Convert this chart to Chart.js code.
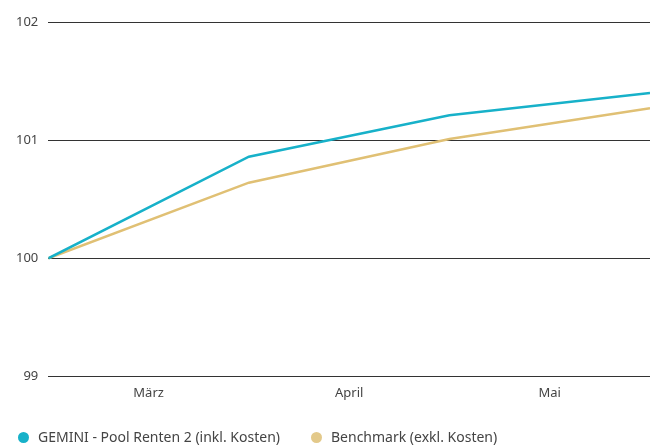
<!DOCTYPE html>
<html>
<head>
<meta charset="utf-8">
<script src="https://cdn.jsdelivr.net/npm/chart.js@4"></script>
<style>
  html, body { margin: 0; padding: 0; background: #fff; }
  #wrap { position: relative; width: 660px; height: 445px; }
  #legend {
    position: absolute; left: 18px; top: 428px;
    display: flex; align-items: center;
    font-family: 'Noto Sans', sans-serif; font-size: 14px; color: #444;
    line-height: 18px; white-space: nowrap;
  }
  #legend .item { display: flex; align-items: center; margin-right: 31px; }
  #legend .dot { width: 11px; height: 11px; border-radius: 50%; margin-right: 9px; }
</style>
</head>
<body>
<div id="wrap">
  <canvas id="lineChart"></canvas>
  <div id="legend"></div>
</div>
<script>
// data
const months = ['März', 'April', 'Mai'];
const fund = [100, 100.86, 101.21, 101.40];
const bench = [100, 100.64, 101.01, 101.27];
const yTicks = [99, 100, 101, 102];

const teal = '#17b1c9';
const gold = '#e0c074';

function toPoints(arr) {
  return arr.map(function (v, i) { return { x: i, y: v }; });
}

const config = {
  type: 'line',
  data: {
    datasets: [{
      label: 'GEMINI - Pool Renten 2 (inkl. Kosten)',
      data: toPoints(fund),
      borderColor: teal,
      backgroundColor: teal,
      borderWidth: 2.5,
      pointRadius: 0,
      tension: 0
    }, {
      label: 'Benchmark (exkl. Kosten)',
      data: toPoints(bench),
      borderColor: gold,
      backgroundColor: '#e3c98a',
      borderWidth: 2.5,
      pointRadius: 0,
      tension: 0
    }]
  },
  options: {
    responsive: true,
    maintainAspectRatio: false,
    animation: false,
    layout: { padding: { left: 6, right: 10, top: 22, bottom: 35 } },
    scales: {
      x: {
        type: 'linear',
        min: 0,
        max: fund.length - 1,
        border: { display: false },
        grid: { display: false, drawTicks: false },
        afterBuildTicks: function (scale) {
          scale.ticks = months.map(function (m, i) { return { value: i + 0.5 }; });
        },
        ticks: {
          padding: 9,
          color: '#444',
          font: { family: 'Noto Sans', size: 13 },
          callback: function (v) { return months[Math.floor(v)]; }
        }
      },
      y: {
        min: yTicks[0],
        max: yTicks[yTicks.length - 1],
        border: { display: false },
        grid: { color: '#333', lineWidth: 1, drawTicks: false },
        afterBuildTicks: function (scale) {
          scale.ticks = yTicks.map(function (v) { return { value: v }; });
        },
        ticks: {
          padding: 10,
          color: '#444',
          font: { family: 'Noto Sans', size: 13 }
        }
      }
    },
    plugins: {
      legend: { display: false },
      tooltip: { enabled: false }
    }
  }
};

const lineChart = new Chart(document.getElementById('lineChart'), config);

// html legend
const legendEl = document.getElementById('legend');
lineChart.data.datasets.forEach(function (ds) {
  const item = document.createElement('div');
  item.className = 'item';
  const dot = document.createElement('span');
  dot.className = 'dot';
  dot.style.background = ds.backgroundColor;
  item.appendChild(dot);
  item.appendChild(document.createTextNode(ds.label));
  legendEl.appendChild(item);
});
</script>
</body>
</html>
